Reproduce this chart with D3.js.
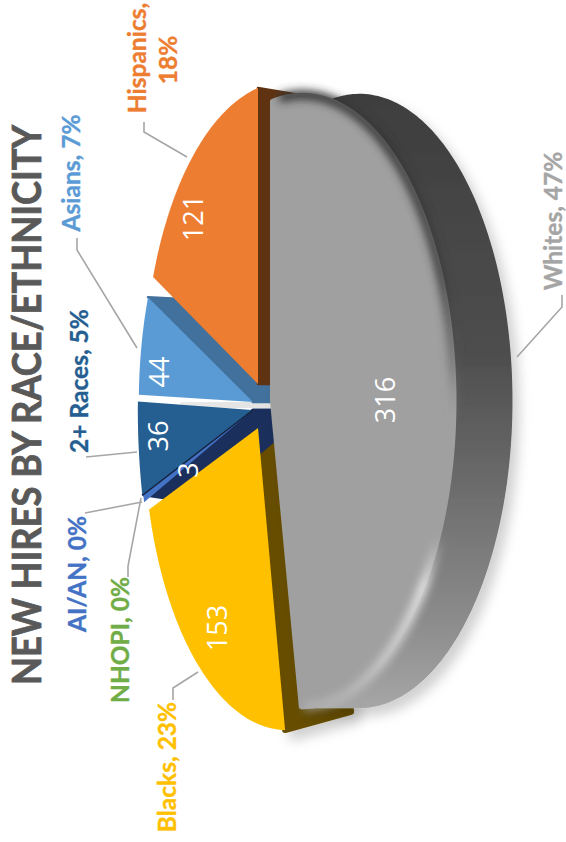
<!DOCTYPE html>
<html><head><meta charset="utf-8">
<script src="https://cdn.jsdelivr.net/npm/d3@7"></script>
<style>html,body{margin:0;padding:0;background:#fff}svg{display:block}text{font-family:Lato,"Open Sans",sans-serif}</style>
</head><body><svg id="c" width="566" height="842"></svg>
<script>
// ---- data ----
const categories = ["Whites","Blacks","NHOPI","AI/AN","2+ Races","Asians","Hispanics"];
const values     = [316,153,0,3,36,44,121];
const percents   = ["47%","23%","0%","0%","5%","7%","18%"];
const faceColors = ["#a0a0a0","#ffc000","#70ad47","#4472c4","#255e91","#5b9bd5","#ed7d31"];
const wallColors = ["#555555","#664d00","#2d4a1c","#1b2f5c","#1b2f5c","#41719c","#5f3312"];
const labelColors= ["#a5a5a5","#ffc000","#70ad47","#4472c4","#255e91","#5b9bd5","#ed7d31"];
const title = "NEW HIRES BY RACE/ETHNICITY";

// ---- layout ----
const slicePos = { // apex, radii, wall depth and wall taper of each exploded slice
  "Whites":{ax:272,ay:401,sx:146,sy:300,depth:57,shrink:1},
  "Blacks":{ax:258,ay:428,sx:137,sy:296,depth:66,shrink:.94},
  "NHOPI":{ax:253,ay:410,sx:137,sy:335,depth:57,shrink:.97},
  "AI/AN":{ax:253,ay:410,sx:137,sy:335,depth:57,shrink:1.1},
  "2+ Races":{ax:252,ay:410,sx:137,sy:335,depth:57,shrink:.97},
  "Asians":{ax:253,ay:402,sx:137,sy:290,depth:57,shrink:.97},
  "Hispanics":{ax:258,ay:384,sx:137,sy:296,depth:70,shrink:.96}
};
const persp=0.2;
const valuePos = {"Whites":[384,400],"Blacks":[216,628],"AI/AN":[187,470],"2+ Races":[157,436],"Asians":[158,372],"Hispanics":[192,218]};
const labelPos = {"Whites":[[552,221]],"Blacks":[[166,767]],"NHOPI":[[119,640]],"AI/AN":[[76,574]],"2+ Races":[[78,381]],"Asians":[[70,173]],"Hispanics":[[136,58],[167,60]]};
const leaders = {
  "Whites":[[562,295],[562,307],[517,357]],
  "Blacks":[[173,700],[173,688],[198,672]],
  "NHOPI":[[128,577],[128,566],[141,498]],
  "AI/AN":[[85,513],[142,502]],
  "2+ Races":[[86,457],[137,452]],
  "Asians":[[77,238],[77,250],[137,348]],
  "Hispanics":[[144,122],[144,132],[187,157]]
};

const svg=d3.select("#c");
const defs=svg.append("defs");
const shadow=defs.append("filter").attr("id","sh").attr("x","-20%").attr("y","-20%").attr("width","150%").attr("height","150%");
shadow.append("feDropShadow").attr("dx",7).attr("dy",8).attr("stdDeviation",6).attr("flood-color","#000").attr("flood-opacity",.18);
defs.append("filter").attr("id","bl").attr("x","-20%").attr("y","-20%").attr("width","140%").attr("height","140%")
  .append("feGaussianBlur").attr("stdDeviation",4);
const grad=(id,stops,y1,y2)=>{const g=defs.append("linearGradient").attr("id",id).attr("gradientUnits","userSpaceOnUse")
  .attr("x1",0).attr("x2",0).attr("y1",y1).attr("y2",y2);
  stops.forEach(s=>g.append("stop").attr("offset",s[0]).attr("stop-color",s[1]).attr("stop-opacity",s[2]===undefined?1:s[2]));};
grad("wallG",[[0,"#3e3e3e"],[.42,"#4e4e4e"],[.62,"#6a6a6a"],[.85,"#8c8c8c"],[1,"#a8a8a8"]],95,715);
grad("rimG",[[0,"#333",1],[.3,"#3c3c3c",1],[.44,"#555",.6],[.53,"#888",0],[.72,"#ddd",0],[.8,"#e8e8e8",1],[.92,"#d0d0d0",.9],[1,"#bbb",.6]],90,710);

const arcs=d3.pie().sort(null).value(d=>d).startAngle(0).endAngle(2*Math.PI)(values);
const proj=(c,t,r)=>{const u=r*Math.sin(t),v=r*Math.cos(t),w=1/(1-persp*u);return [c.ax+c.sx*u*w,c.ay-c.sy*v*w];};
const ext=(c,p)=>[p[0]+c.depth,c.ay+(p[1]-c.ay)*c.shrink];
const line=d3.line();
const arcPts=(c,a,b,r=1)=>{const n=Math.max(2,Math.ceil((b-a)/0.02));return d3.range(n+1).map(i=>proj(c,a+(b-a)*i/n,r));};
const slices=arcs.map((d,i)=>({name:categories[i],i,a:d.startAngle,b:d.endAngle,c:slicePos[categories[i]]})).filter(s=>values[s.i]>0);
const by=n=>slices.find(s=>s.name===n);
const apex=s=>[s.c.ax,s.c.ay];
const face=s=>[apex(s),...arcPts(s.c,s.a,s.b)];
const radial=(s,t)=>{const A=apex(s),R=proj(s.c,t,1);return [A,R,ext(s.c,R),ext(s.c,A)];};
const paint=(g,pts,col,sw=2.5)=>g.append("path").attr("d",line(pts)+"Z").attr("fill",col).attr("stroke",col).attr("stroke-width",sw).attr("stroke-linejoin","round");

const pie=svg.append("g");
const back=pie.append("g").attr("filter","url(#sh)");
// pale sliver in the gap under Asians
const asians=by("Asians");
const gapG=defs.append("linearGradient").attr("id","gapG").attr("x1",0).attr("x2",1).attr("y1",0).attr("y2",0);
gapG.append("stop").attr("offset",.3).attr("stop-color","#fff");gapG.append("stop").attr("offset",.32).attr("stop-color","#e9e9e9");gapG.append("stop").attr("offset",1).attr("stop-color","#e2e2e2");
const gapA=proj(asians.c,asians.a,1);
pie.append("rect").attr("x",gapA[0]).attr("y",asians.c.ay).attr("width",asians.c.ax+20-gapA[0]).attr("height",6).attr("fill","url(#gapG)");

// radial walls, back to front
paint(back,radial(by("Blacks"),by("Blacks").a),wallColors[1],6);
paint(pie,radial(asians,asians.b),wallColors[asians.i]);
const ai=by("AI/AN");
paint(pie,radial(ai,ai.b),wallColors[ai.i],3);
const hi=by("Hispanics");
paint(pie,radial(hi,hi.b),wallColors[hi.i]);
// faces
["2+ Races","AI/AN","Asians","Hispanics","Blacks"].forEach(n=>{
  const s=by(n);
  pie.append("path").attr("d",line(face(s))+"Z").attr("fill",faceColors[s.i]);
});
// dark seam between 2+ Races and AI/AN
pie.append("path").attr("d",line([apex(ai),proj(ai.c,ai.b,1)])).attr("stroke","#14233f").attr("stroke-width",1.3);
// Whites: outer wall then face with bevel
const W=by("Whites");
const rim=arcPts(W.c,W.a,W.b);
const wallPts=[...rim,...rim.map(p=>ext(W.c,p)).reverse()];
const wf=pie.append("g").attr("filter","url(#sh)");
wf.append("path").attr("d",line(wallPts)+"Z").attr("fill","url(#wallG)").attr("stroke","url(#wallG)").attr("stroke-width",2).attr("stroke-linejoin","round");
wf.append("path").attr("d",line(face(W))+"Z").attr("fill",faceColors[W.i]).attr("stroke",faceColors[W.i]).attr("stroke-width",4).attr("stroke-linejoin","round");
pie.append("path").attr("d",line(arcPts(W.c,W.a+.05,W.b-.02,1)))
  .attr("fill","none").attr("stroke","url(#rimG)").attr("stroke-width",9).attr("filter","url(#bl)");

// leaders
const leaderG=svg.append("g");
categories.forEach(n=>leaderG.append("path").attr("d",line(leaders[n])).attr("fill","none").attr("stroke","#a6a6a6").attr("stroke-width",1.6));

// rotated text
const rot=(x,y,txt,size,col,weight,sw=.35)=>svg.append("text").attr("transform",`translate(${x},${y}) rotate(-90)`)
  .attr("text-anchor","middle").attr("dominant-baseline","central").attr("font-size",size).attr("font-weight",weight).attr("fill",col).attr("stroke",col).attr("stroke-width",sw).text(txt);
rot(26,405,title,40,"#595959",700,.8).attr("textLength",560).attr("lengthAdjust","spacingAndGlyphs");
categories.forEach((n,i)=>{
  const p=labelPos[n];
  if(p.length===2){rot(p[0][0],p[0][1],n+",",24.5,labelColors[i],700);rot(p[1][0],p[1][1],percents[i],24.5,labelColors[i],700);}
  else rot(p[0][0],p[0][1],n+", "+percents[i],24.5,labelColors[i],700);
  if(valuePos[n]) svg.append("text").attr("transform",`translate(${valuePos[n][0]},${valuePos[n][1]}) rotate(-90)`)
    .attr("text-anchor","middle").attr("dominant-baseline","central").attr("font-size",27).attr("fill","#fff").style("font-family","'Open Sans',sans-serif").text(values[i]);
});
</script></body></html>
